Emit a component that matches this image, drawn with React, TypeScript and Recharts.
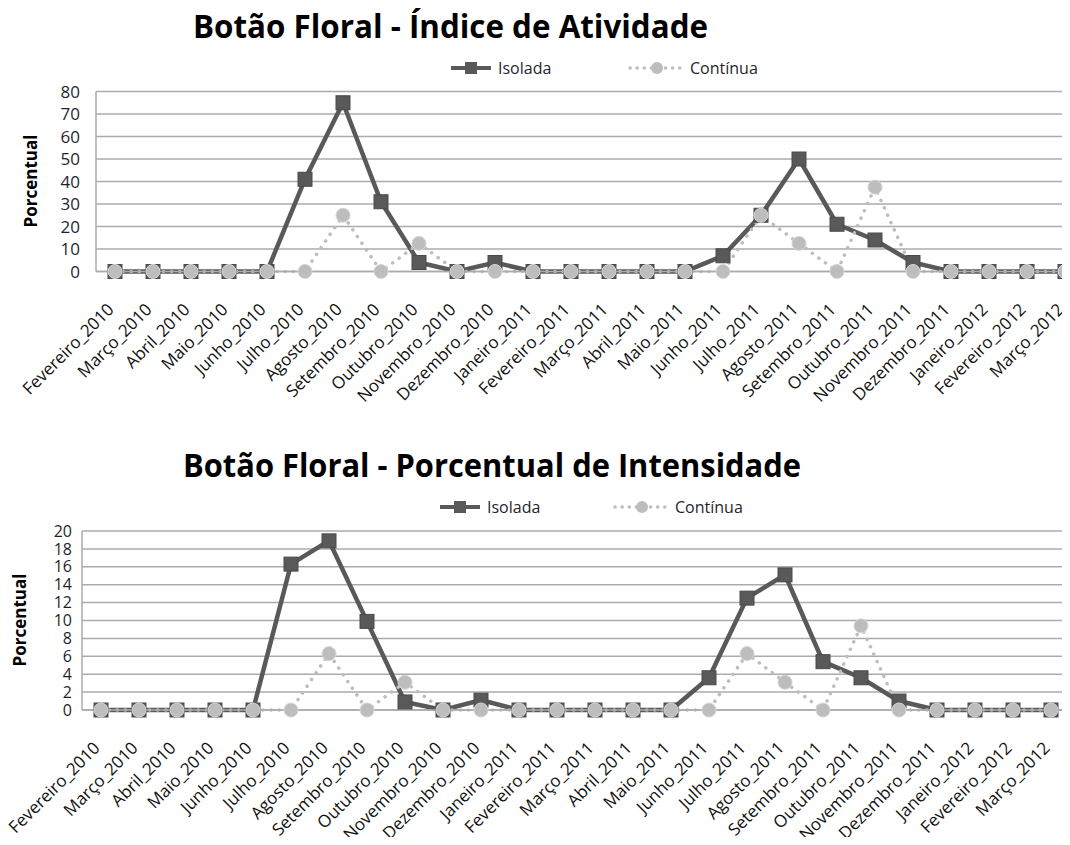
import React from 'react';
import { LineChart, Line, XAxis, YAxis, CartesianGrid, Legend } from 'recharts';

const months = [
  'Fevereiro_2010', 'Março_2010', 'Abril_2010', 'Maio_2010', 'Junho_2010', 'Julho_2010',
  'Agosto_2010', 'Setembro_2010', 'Outubro_2010', 'Novembro_2010', 'Dezembro_2010', 'Janeiro_2011',
  'Fevereiro_2011', 'Março_2011', 'Abril_2011', 'Maio_2011', 'Junho_2011', 'Julho_2011',
  'Agosto_2011', 'Setembro_2011', 'Outubro_2011', 'Novembro_2011', 'Dezembro_2011', 'Janeiro_2012',
  'Fevereiro_2012', 'Março_2012',
];

const atividadeIsolada = [0, 0, 0, 0, 0, 41, 75, 31, 4, 0, 4, 0, 0, 0, 0, 0, 7, 25, 50, 21, 14, 4, 0, 0, 0, 0];
const atividadeContinua = [0, 0, 0, 0, 0, 0, 25, 0, 12.5, 0, 0, 0, 0, 0, 0, 0, 0, 25, 12.5, 0, 37.5, 0, 0, 0, 0, 0];

const intensidadeIsolada = [0, 0, 0, 0, 0, 16.3, 18.9, 9.9, 0.9, 0, 1.1, 0, 0, 0, 0, 0, 3.6, 12.5, 15.1, 5.4, 3.6, 1, 0, 0, 0, 0];
const intensidadeContinua = [0, 0, 0, 0, 0, 0, 6.3, 0, 3.1, 0, 0, 0, 0, 0, 0, 0, 0, 6.3, 3.1, 0, 9.4, 0, 0, 0, 0, 0];

const atividadeTicks = [0, 10, 20, 30, 40, 50, 60, 70, 80];
const intensidadeTicks = [0, 2, 4, 6, 8, 10, 12, 14, 16, 18, 20];

const titleAtividade = 'Botão Floral - Índice de Atividade';
const titleIntensidade = 'Botão Floral - Porcentual de Intensidade';
const yLabel = 'Porcentual';
const serieIsolada = 'Isolada';
const serieContinua = 'Contínua';

const dataAtividade = months.map((m, i) => ({ mes: m, isolada: atividadeIsolada[i], continua: atividadeContinua[i] }));
const dataIntensidade = months.map((m, i) => ({ mes: m, isolada: intensidadeIsolada[i], continua: intensidadeContinua[i] }));

const DARK = '#595959';
const LIGHT = '#BDBDBD';
const GRID = '#ABABAB';
const TEXT = '#1f1f2e';
const FONT = '"Open Sans", "DejaVu Sans", sans-serif';
const LEGEND_H = 24;

const SquareDot = (props: any) => {
  const { cx, cy } = props;
  if (cx == null || cy == null) return null;
  return <rect x={cx - 7} y={cy - 7} width={14} height={14} fill={DARK} stroke="#4a4a4a" strokeWidth={1} />;
};

const CircleDot = (props: any) => {
  const { cx, cy } = props;
  if (cx == null || cy == null) return null;
  return <circle cx={cx} cy={cy} r={7} fill={LIGHT} stroke="#D6D6D6" strokeWidth={1} />;
};

const MonthTick = (props: any) => {
  const { x, y, payload } = props;
  return (
    <g transform={`translate(${x},${y + 31})`}>
      <text x={0} y={0} textAnchor="end" transform="rotate(-45)" fontSize={17} fontFamily={FONT} fill="#111">
        {payload.value}
      </text>
    </g>
  );
};

const makeLegend = (isoX: number, contX: number) => (props: any) => {
  const payload = props.payload || [];
  const iso = payload.find((p: any) => p.dataKey === 'isolada');
  const cont = payload.find((p: any) => p.dataKey === 'continua');
  return (
    <svg width={420} height={LEGEND_H} style={{ display: 'block', overflow: 'visible' }}>
      <line x1={isoX} y1={12} x2={isoX + 40} y2={12} stroke={DARK} strokeWidth={4} />
      <rect x={isoX + 14} y={6} width={12} height={12} fill={DARK} />
      <text x={isoX + 47} y={18} fontSize={16} fontFamily={FONT} fill={TEXT}>{iso ? iso.value : serieIsolada}</text>
      <line x1={contX} y1={12} x2={contX + 54} y2={12} stroke={LIGHT} strokeWidth={3.5} strokeDasharray="0.1 7" strokeLinecap="round" />
      <circle cx={contX + 27} cy={12} r={6} fill={LIGHT} />
      <text x={contX + 60} y={18} fontSize={16} fontFamily={FONT} fill={TEXT}>{cont ? cont.value : serieContinua}</text>
    </svg>
  );
};

const yTickStyle = { fontSize: 17, fontFamily: FONT, fill: TEXT };
const yTickStyleSmall = { fontSize: 16, fontFamily: FONT, fill: TEXT };

export default function App() {
  return (
    <div style={{ position: 'relative', width: 1070, height: 845, margin: -8, overflow: 'hidden', background: '#fff' }}>
      <div style={{ position: 'absolute', left: 0, top: 0 }}>
        <LineChart width={1100} height={430} data={dataAtividade} margin={{ top: 91.5, right: 16, left: 0, bottom: 0 }}>
          <CartesianGrid vertical={false} stroke={GRID} strokeWidth={1.5} />
          <XAxis dataKey="mes" interval={0} height={158.5 - LEGEND_H} padding={{ left: 19, right: 19 }} tickLine={false} axisLine={{ stroke: GRID, strokeWidth: 1.5 }} tick={<MonthTick />} />
          <YAxis width={96} domain={[0, 80]} ticks={atividadeTicks} interval={0} tickLine={false} axisLine={{ stroke: GRID, strokeWidth: 1.5 }} tickMargin={10} tick={yTickStyle} />
          <Legend content={makeLegend(11, 190)} wrapperStyle={{ position: 'absolute', left: 440, top: 56, width: 420 }} />
          <Line type="linear" dataKey="isolada" name={serieIsolada} stroke={DARK} strokeWidth={4.5} dot={<SquareDot />} isAnimationActive={false} />
          <Line type="linear" dataKey="continua" name={serieContinua} stroke={LIGHT} strokeWidth={3.5} strokeDasharray="0.1 8" strokeLinecap="round" dot={<CircleDot />} isAnimationActive={false} />
        </LineChart>
      </div>
      <div style={{ position: 'absolute', left: 0, top: 430 }}>
        <LineChart width={1100} height={415} data={dataIntensidade} margin={{ top: 101, right: 30, left: 0, bottom: 0 }}>
          <CartesianGrid vertical={false} stroke={GRID} strokeWidth={1.5} />
          <XAxis dataKey="mes" interval={0} height={135 - LEGEND_H} padding={{ left: 19, right: 19 }} tickLine={false} axisLine={{ stroke: GRID, strokeWidth: 1.5 }} tick={<MonthTick />} />
          <YAxis width={82} domain={[0, 20]} ticks={intensidadeTicks} interval={0} tickLine={false} axisLine={{ stroke: GRID, strokeWidth: 1.5 }} tickMargin={4} tick={yTickStyleSmall} />
          <Legend content={makeLegend(10, 185)} wrapperStyle={{ position: 'absolute', left: 430, top: 65, width: 420 }} />
          <Line type="linear" dataKey="isolada" name={serieIsolada} stroke={DARK} strokeWidth={4.5} dot={<SquareDot />} isAnimationActive={false} />
          <Line type="linear" dataKey="continua" name={serieContinua} stroke={LIGHT} strokeWidth={3.5} strokeDasharray="0.1 8" strokeLinecap="round" dot={<CircleDot />} isAnimationActive={false} />
        </LineChart>
      </div>
      <svg width={1070} height={845} style={{ position: 'absolute', left: 0, top: 0, pointerEvents: 'none' }}>
        <text x={193} y={38} fontSize={32} fontWeight={700} fontFamily={FONT} fill="#000" textLength={515} lengthAdjust="spacingAndGlyphs">{titleAtividade}</text>
        <text x={183} y={477} fontSize={32} fontWeight={700} fontFamily={FONT} fill="#000" textLength={618} lengthAdjust="spacingAndGlyphs">{titleIntensidade}</text>
        <text transform="translate(37,181) rotate(-90)" textAnchor="middle" fontSize={17} fontWeight={700} fontFamily={FONT} fill="#000">{yLabel}</text>
        <text transform="translate(26,620) rotate(-90)" textAnchor="middle" fontSize={17} fontWeight={700} fontFamily={FONT} fill="#000">{yLabel}</text>
      </svg>
    </div>
  );
}
